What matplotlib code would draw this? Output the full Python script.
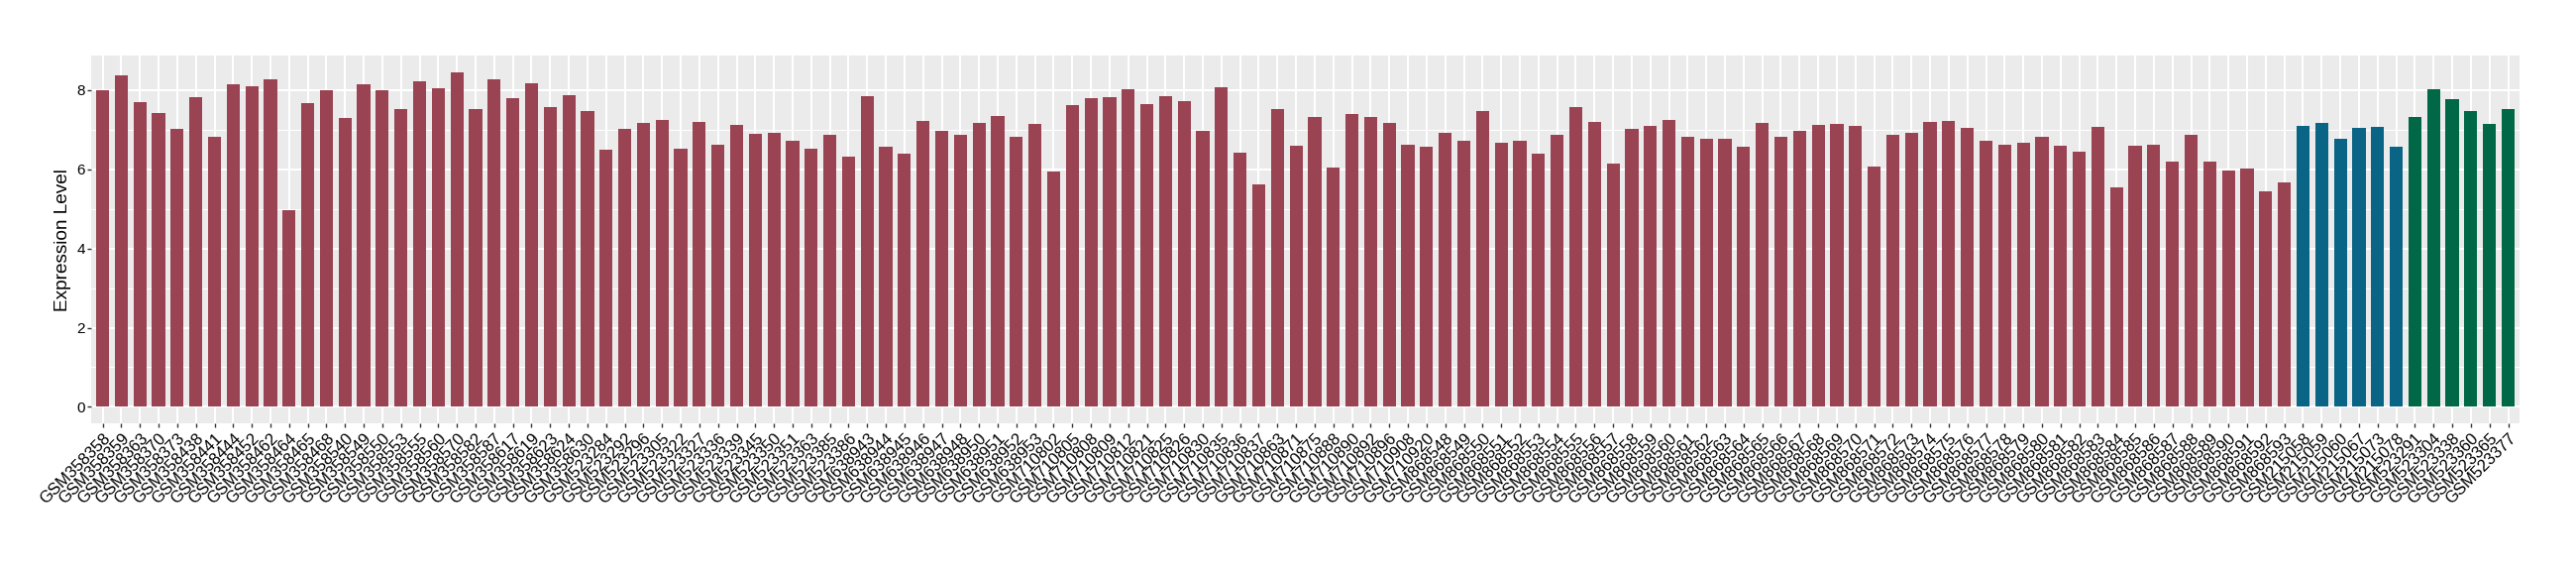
import matplotlib
matplotlib.use('Agg')
import matplotlib.pyplot as plt
import numpy as np

plt.rcParams['font.family'] = ['Liberation Sans', 'DejaVu Sans']

# sample ids, grouped by series
red_samples = ['GSM358358', 'GSM358359', 'GSM358363', 'GSM358370', 'GSM358373', 'GSM358438',
               'GSM358441', 'GSM358444', 'GSM358452', 'GSM358462', 'GSM358464', 'GSM358465',
               'GSM358468', 'GSM358540', 'GSM358549', 'GSM358550', 'GSM358553', 'GSM358555',
               'GSM358560', 'GSM358570', 'GSM358582', 'GSM358587', 'GSM358617', 'GSM358619',
               'GSM358623', 'GSM358624', 'GSM358630', 'GSM523284', 'GSM523292', 'GSM523296',
               'GSM523305', 'GSM523322', 'GSM523327', 'GSM523336', 'GSM523339', 'GSM523345',
               'GSM523350', 'GSM523351', 'GSM523363', 'GSM523385', 'GSM523386', 'GSM638943',
               'GSM638944', 'GSM638945', 'GSM638946', 'GSM638947', 'GSM638948', 'GSM638950',
               'GSM638951', 'GSM638952', 'GSM638953', 'GSM710802', 'GSM710805', 'GSM710808',
               'GSM710809', 'GSM710812', 'GSM710821', 'GSM710825', 'GSM710826', 'GSM710830',
               'GSM710835', 'GSM710836', 'GSM710837', 'GSM710863', 'GSM710871', 'GSM710875',
               'GSM710888', 'GSM710890', 'GSM710892', 'GSM710896', 'GSM710908', 'GSM710920',
               'GSM868548', 'GSM868549', 'GSM868550', 'GSM868551', 'GSM868552', 'GSM868553',
               'GSM868554', 'GSM868555', 'GSM868556', 'GSM868557', 'GSM868558', 'GSM868559',
               'GSM868560', 'GSM868561', 'GSM868562', 'GSM868563', 'GSM868564', 'GSM868565',
               'GSM868566', 'GSM868567', 'GSM868568', 'GSM868569', 'GSM868570', 'GSM868571',
               'GSM868572', 'GSM868573', 'GSM868574', 'GSM868575', 'GSM868576', 'GSM868577',
               'GSM868578', 'GSM868579', 'GSM868580', 'GSM868581', 'GSM868582', 'GSM868583',
               'GSM868584', 'GSM868585', 'GSM868586', 'GSM868587', 'GSM868588', 'GSM868589',
               'GSM868590', 'GSM868591', 'GSM868592', 'GSM868593']
red_values = [7.99, 8.36, 7.70, 7.43, 7.02, 7.82, 6.83, 8.14, 8.09, 8.26, 4.96, 7.67,
              7.99, 7.29, 8.14, 7.99, 7.51, 8.21, 8.04, 8.45, 7.53, 8.28, 7.80, 8.16,
              7.56, 7.87, 7.48, 6.49, 7.02, 7.16,
              7.24, 6.51, 7.19, 6.61, 7.12, 6.90, 6.92, 6.71, 6.51, 6.88, 6.32, 7.85,
              6.56, 6.39, 7.22, 6.97, 6.88,
              7.16, 7.34, 6.83, 7.14, 5.95, 7.63, 7.80, 7.82, 8.02, 7.65, 7.85, 7.72,
              6.97, 8.07, 6.41, 5.62, 7.51,
              6.59, 7.32, 6.05, 7.39, 7.32, 7.16, 6.61, 6.56, 6.92, 6.71, 7.48, 6.68,
              6.71, 6.39, 6.86, 7.58, 7.19,
              6.15, 7.02, 7.10, 7.24, 6.81, 6.78, 6.76, 6.56, 7.16, 6.81, 6.97, 7.12,
              7.14, 7.10, 6.08, 6.86, 6.92,
              7.19, 7.22, 7.05, 6.73, 6.63, 6.68, 6.81, 6.59, 6.44, 7.07, 5.54, 6.59,
              6.61, 6.20, 6.86, 6.20, 5.98,
              6.03, 5.44, 5.66]

blue_samples = ['GSM215058', 'GSM215059', 'GSM215060', 'GSM215067', 'GSM215073', 'GSM215078']
blue_values = [7.10, 7.16, 6.78, 7.05, 7.07, 6.56]

green_samples = ['GSM523291', 'GSM523304', 'GSM523338', 'GSM523360', 'GSM523365', 'GSM523377']
green_values = [7.32, 8.02, 7.77, 7.48, 7.14, 7.51]

red_col = '#9A4352'
blue_col = '#0A6486'
green_col = '#006846'

samples = red_samples + blue_samples + green_samples
values = red_values + blue_values + green_values
colors = [red_col] * len(red_samples) + [blue_col] * len(blue_samples) + [green_col] * len(green_samples)

fig = plt.figure(figsize=(26, 5.8), dpi=100)
ax = fig.add_axes([0.0355, 0.2633, 0.9425, 0.6401])

x = np.arange(len(samples))
ax.bar(x, values, width=0.7, color=colors, zorder=3)

# ggplot-ish grey panel
ax.set_facecolor('#EBEBEB')
for s in ax.spines.values():
    s.set_visible(False)
ax.set_xlim(-0.6, len(samples) - 0.4)
ymax = max(values)
ax.set_ylim(-0.05 * ymax, ymax * 1.05)

ax.set_yticks([0, 2, 4, 6, 8])
ax.set_yticks([1, 3, 5, 7], minor=True)
ax.grid(which='major', color='white', linewidth=1.5, zorder=0)
ax.grid(which='minor', axis='y', color='white', linewidth=0.75, zorder=0)
ax.set_axisbelow(True)

ax.set_xticks(x)
ax.set_xticklabels(samples, rotation=45, ha='right', va='top', rotation_mode='anchor',
                   fontsize=12, color='black')
ax.tick_params(axis='x', pad=2)
ax.tick_params(axis='y', labelsize=11, labelcolor='black', pad=1.5)
ax.tick_params(which='major', length=3, width=1, color='#333333')
ax.tick_params(which='minor', length=0)

ax.set_ylabel('Expression Level', fontsize=13.7, color='black', labelpad=4)

fig.savefig('out.png', dpi=100)
